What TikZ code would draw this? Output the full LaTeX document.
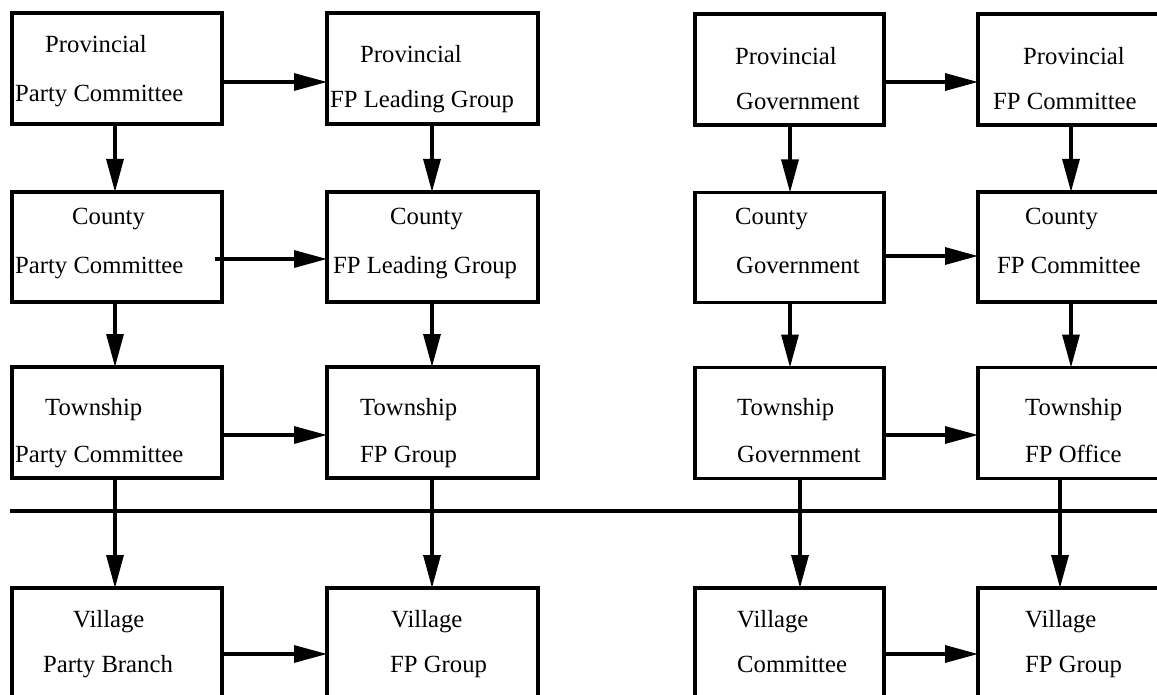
\documentclass[tikz,border=0pt]{standalone}
\usepackage{fontspec}
\setmainfont{Liberation Serif}
\usetikzlibrary{arrows.meta}
\begin{document}
\begin{tikzpicture}[x=1pt,y=-1pt,
  box/.style={draw=black, line width=3.5pt, inner sep=0pt, outer sep=0pt, minimum height=111pt},
  lbl/.style={anchor=base west, inner sep=0pt, font=\fontsize{24.7}{29}\selectfont},
  arr/.style={line width=3.2pt, -{Triangle[length=33pt,width=17pt]}},
  rule/.style={line width=3.5pt}]
\useasboundingbox (0,0) rectangle (1157,695);
\clip (0,0) rectangle (1157,695);
% boxes
\node[box, minimum width=210pt] (a1) at (117,68.5) {};
\node[box, minimum width=211pt] (b1) at (432.5,68.5) {};
\node[box, minimum width=189pt] (c1) at (789.5,69.5) {};
\node[box, minimum width=189pt] (d1) at (1072.5,69.5) {};
\node[box, minimum width=210pt, minimum height=110pt] (a2) at (117,247) {};
\node[box, minimum width=211pt, minimum height=110pt] (b2) at (432.5,247) {};
\node[box, minimum width=189pt, minimum height=110pt] (c2) at (789.5,247.5) {};
\node[box, minimum width=189pt, minimum height=110pt] (d2) at (1072.5,247) {};
\node[box, minimum width=210pt] (a3) at (117,422.5) {};
\node[box, minimum width=211pt] (b3) at (432.5,422.5) {};
\node[box, minimum width=189pt] (c3) at (789.5,423) {};
\node[box, minimum width=189pt] (d3) at (1072.5,423) {};
\node[box, minimum width=210pt] (a4) at (117,643.5) {};
\node[box, minimum width=211pt] (b4) at (432.5,643.5) {};
\node[box, minimum width=189pt] (c4) at (789.5,643.5) {};
\node[box, minimum width=189pt] (d4) at (1072.5,643.5) {};
% texts
\node[lbl] (ta1a) at (45,53) {Provincial};
\node[lbl] (ta1b) at (15,102) {Party Committee};
\node[lbl] (tb1a) at (360,63) {Provincial};
\node[lbl] (tb1b) at (330,108) {FP Leading Group};
\node[lbl] (tc1a) at (735,65) {Provincial};
\node[lbl] (tc1b) at (736,110) {Government};
\node[lbl] (td1a) at (1023,65) {Provincial};
\node[lbl] (td1b) at (993,110) {FP Committee};
\node[lbl] (ta2a) at (72,225) {County};
\node[lbl] (ta2b) at (15,273) {Party Committee};
\node[lbl] (tb2a) at (390,225) {County};
\node[lbl] (tb2b) at (333,273) {FP Leading Group};
\node[lbl] (tc2a) at (735,225) {County};
\node[lbl] (tc2b) at (736,273) {Government};
\node[lbl] (td2a) at (1025,225) {County};
\node[lbl] (td2b) at (997,273) {FP Committee};
\node[lbl] (ta3a) at (45,415) {Township};
\node[lbl] (ta3b) at (15,462) {Party Committee};
\node[lbl] (tb3a) at (360,415) {Township};
\node[lbl] (tb3b) at (360,462) {FP Group};
\node[lbl] (tc3a) at (737,415) {Township};
\node[lbl] (tc3b) at (737,462) {Government};
\node[lbl] (td3a) at (1025,415) {Township};
\node[lbl] (td3b) at (1025,462) {FP Office};
\node[lbl] (ta4a) at (73,627) {Village};
\node[lbl] (ta4b) at (43,672) {Party Branch};
\node[lbl] (tb4a) at (391,627) {Village};
\node[lbl] (tb4b) at (390,672) {FP Group};
\node[lbl] (tc4a) at (737,627) {Village};
\node[lbl] (tc4b) at (737,672) {Committee};
\node[lbl] (td4a) at (1025,627) {Village};
\node[lbl] (td4b) at (1025,672) {FP Group};
% helper coordinates
\coordinate (h1) at (0,82);
\coordinate (h2) at (0,259);
\coordinate (h2r) at (0,256);
\coordinate (h3) at (0,435);
\coordinate (h4) at (0,654);
\coordinate (va) at (115,0);
\coordinate (vb) at (432,0);
\coordinate (vc) at (790,0);
\coordinate (vc3) at (800,0);
\coordinate (vd) at (1071,0);
\coordinate (vd3) at (1060,0);
\coordinate (ls) at (10,511);
\coordinate (le) at (1160,511);
% separator
\draw[rule] (ls) -- (le);
% horizontal arrows
\draw[arr] (a1.east |- h1) -- (b1.west |- h1);
\draw[arr] (c1.east |- h1) -- (d1.west |- h1);
\draw[arr] ([xshift=-7pt]a2.east |- h2) -- (b2.west |- h2);
\draw[arr] (c2.east |- h2r) -- (d2.west |- h2r);
\draw[arr] (a3.east |- h3) -- (b3.west |- h3);
\draw[arr] (c3.east |- h3) -- (d3.west |- h3);
\draw[arr] (a4.east |- h4) -- (b4.west |- h4);
\draw[arr] (c4.east |- h4) -- (d4.west |- h4);
% vertical arrows
\draw[arr] (a1.south -| va) -- (a2.north -| va);
\draw[arr] (a2.south -| va) -- (a3.north -| va);
\draw[arr] (a3.south -| va) -- (a4.north -| va);
\draw[arr] (b1.south -| vb) -- (b2.north -| vb);
\draw[arr] (b2.south -| vb) -- (b3.north -| vb);
\draw[arr] (b3.south -| vb) -- (b4.north -| vb);
\draw[arr] (c1.south -| vc) -- (c2.north -| vc);
\draw[arr] (c2.south -| vc) -- (c3.north -| vc);
\draw[arr] (c3.south -| vc3) -- (c4.north -| vc3);
\draw[arr] (d1.south -| vd) -- (d2.north -| vd);
\draw[arr] (d2.south -| vd) -- (d3.north -| vd);
\draw[arr] (d3.south -| vd3) -- (d4.north -| vd3);
\end{tikzpicture}
\end{document}
